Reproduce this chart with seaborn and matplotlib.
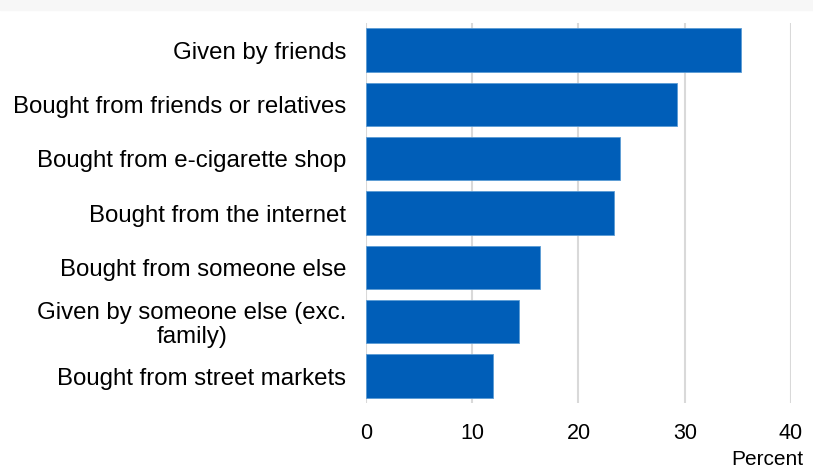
import matplotlib
matplotlib.use("Agg")
import pandas as pd
from matplotlib import pyplot as plt
import seaborn as sns

# Sources of e-cigarettes (percent)
sources = [
    "Given by friends",
    "Bought from friends or relatives",
    "Bought from e-cigarette shop",
    "Bought from the internet",
    "Bought from someone else",
    "Given by someone else (exc.\nfamily)",
    "Bought from street markets",
]
percent = [35.3, 29.3, 23.9, 23.3, 16.4, 14.4, 12.0]
x_ticks = [0, 10, 20, 30, 40]

df = pd.DataFrame({"Source": sources, "Percent": percent})

sns.set_theme(style="white")
plt.rcParams["font.family"] = ["Liberation Sans", "DejaVu Sans"]

fig = plt.figure(figsize=(8.13, 4.76), dpi=100)
# light strip across the top of the picture
fig.patches.append(plt.Rectangle((0, 0.979), 1, 0.021, transform=fig.transFigure,
                                 color="#f7f7f7", zorder=0))
ax = fig.add_axes([0.450, 0.153, 0.523, 0.799])

sns.barplot(data=df, x="Percent", y="Source", color="#005EB8", saturation=1,
            width=0.8, edgecolor="#5b9bd5", linewidth=0.6, ax=ax, zorder=3)

ax.set_xlim(0, 40)
ax.set_xticks(x_ticks)
ax.set_ylim(6.5, -0.5)
ax.grid(axis="x", color="#d9d9d9", linewidth=1.5, zorder=0)
ax.set_axisbelow(True)
for s in ax.spines.values():
    s.set_visible(False)
ax.tick_params(axis="both", length=0, colors="black")
ax.tick_params(axis="x", pad=14, labelsize=15.5)
ax.tick_params(axis="y", pad=14, labelsize=17.3)
for lbl in ax.get_yticklabels():
    lbl.set_multialignment("center")
    lbl.set_linespacing(1.12)
ax.set_ylabel("")
ax.set_xlabel("Percent", fontsize=15, color="black")
ax.xaxis.set_label_coords(1.028, -0.122)
ax.xaxis.label.set_horizontalalignment("right")

fig.savefig("out.png", dpi=100)
